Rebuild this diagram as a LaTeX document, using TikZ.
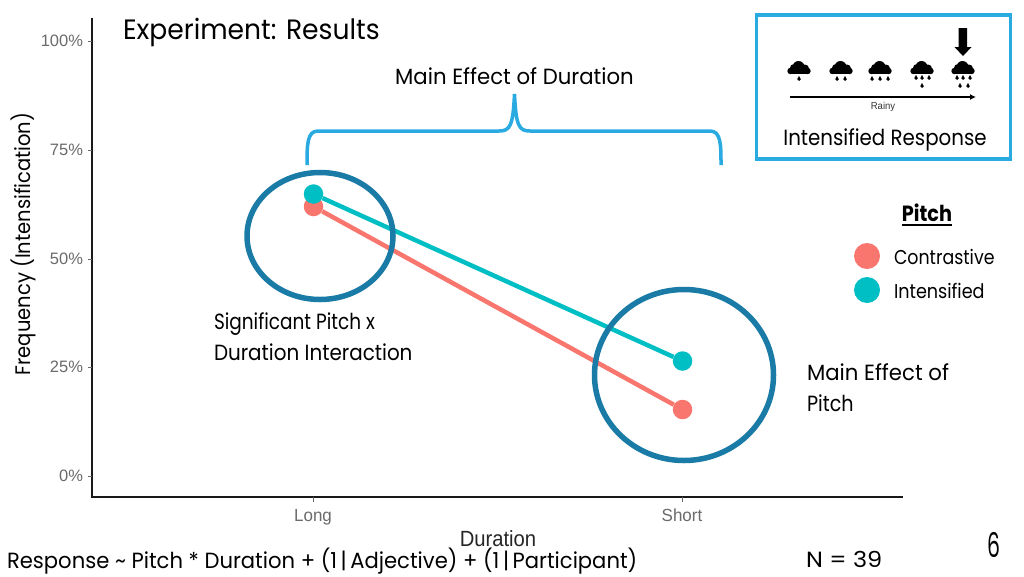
\documentclass[tikz,border=0pt]{standalone}
\usepackage{fontspec}
\usetikzlibrary{arrows.meta}
\setmainfont{Poppins}
\newfontfamily\axisfont{Liberation Sans}
\definecolor{ringblue}{HTML}{1A7BA6}
\definecolor{braceblue}{HTML}{29ABE2}
\definecolor{salmon}{HTML}{F8766D}
\definecolor{tealc}{HTML}{00BFC4}
\tikzset{
  slide/.style={inner sep=0pt,outer sep=0pt,text=black},
  big/.style={slide,font=\fontsize{28}{30}\selectfont,anchor=base west},
  ann/.style={slide,font=\fontsize{22}{24}\selectfont,anchor=base west},
  annc/.style={slide,font=\fontsize{22}{24}\selectfont,anchor=base},
  leg/.style={slide,font=\fontsize{20}{24}\selectfont,anchor=base west},
  tick/.style={slide,font=\axisfont\fontsize{16.5}{18}\selectfont,text=black!58},
  xtick/.style={slide,font=\axisfont\fontsize{17.5}{18}\selectfont,text=black!58,xscale=.97,anchor=base},
  axisline/.style={line width=2pt,draw=black!90},
  tickline/.style={line width=.8pt,draw=black!60},
  ringline/.style={line width=5.5pt,draw=ringblue},
  brace/.style={line width=3.5pt,draw=braceblue},
  redline/.style={line width=4.5pt,draw=salmon},
  tealline/.style={line width=4.5pt,draw=tealc},
  reddot/.style={circle,fill=salmon,minimum size=19.5pt,inner sep=0pt},
  tealdot/.style={circle,fill=tealc,minimum size=19.5pt,inner sep=0pt},
  reddotb/.style={circle,fill=salmon,minimum size=26pt,inner sep=0pt},
  tealdotb/.style={circle,fill=tealc,minimum size=26pt,inner sep=0pt},
  cloud/.pic={
    \fill (-8.5,0) circle[radius=3.2] (8.5,0) circle[radius=3.2];
    \fill (-8.5,-3.2) rectangle (8.5,3.2);
    \fill (-5,-3) circle[radius=4] (-0.5,-4) circle[radius=6] (6,-2.5) circle[radius=4];
  },
  rain/.pic={\fill (0,-3) -- (1.8,.2) arc[start angle=0,end angle=180,radius=1.8] -- cycle;}
}
\begin{document}
\begin{tikzpicture}[x=1pt,y=-1pt]
\useasboundingbox (0,0) rectangle (1024,576);
\fill[white] (0,0) rectangle (1024,576);
% axes
\coordinate (o) at (92,497);
\coordinate (ytop) at (92,18);
\coordinate (xend) at (903,497);
\draw[axisline] (ytop) -- (o) -- (xend);
\foreach \y/\t in {41/100\%,150/75\%,259/50\%,367/25\%,476/0\%}{
  \draw[tickline] (88,\y) -- (92,\y);
  \node[tick,anchor=east] at (83,\y) {\t};
}
\draw[tickline] (313,497) -- (313,502);
\draw[tickline] (682,497) -- (682,502);
\node[xtick] (long) at (313,521) {Long};
\node[xtick] (short) at (682,521) {Short};
\node[slide,font=\axisfont\fontsize{22}{24}\selectfont,text=black!85,xscale=.92] (durlab) at (498,538.5) {Duration};
\node[slide,rotate=90,xscale=.93,font=\fontsize{21}{24}\selectfont] (ylab) at (23,244) {Frequency (Intensification)};
% data
\node[reddot] (r1) at (313.5,206.5) {};
\node[reddot] (r2) at (682.5,409.5) {};
\node[tealdot] (t1) at (313.5,194) {};
\node[tealdot] (t2) at (682.5,361) {};
\draw[redline] (r1) -- (r2);
\draw[tealline] (t1) -- (t2);
% rings
\draw[ringline] (320,236) ellipse[x radius=73,y radius=63.5];
\draw[ringline] (684,375) ellipse[x radius=89.5,y radius=85.5];
% brace
\coordinate (bl) at (307,165);
\coordinate (br) at (721,165);
\coordinate (bt) at (514.5,94);
\draw[brace] (bl) .. controls (307,145) and (307,131) .. (318,131) -- (499,131)
  .. controls (510,131) and (513,126) .. (bt)
  .. controls (516,126) and (519,131) .. (530,131) -- (710,131)
  .. controls (721,131) and (721,145) .. (br);
% texts
\node[big,xscale=.95] (title) at (123,39) {Experiment: Results};
\node[annc,xscale=.965] (mdur) at (514.5,84) {Main Effect of Duration};
\node[ann,xscale=.84] (sig1) at (214,329) {Significant Pitch x};
\node[ann,xscale=.905] (sig2) at (214,360) {Duration Interaction};
\node[ann,xscale=.965] (mp1) at (807,380) {Main Effect of};
\node[ann,xscale=.87] (mp2) at (807,411) {Pitch};
\node[ann,xscale=.96] (formula) at (7,568) {Response \textasciitilde{} Pitch * Duration + (1\,|\,Adjective) + (1\,|\,Participant)};
\node[ann,xscale=1.09] (n) at (806,567) {N = 39};
\node[slide,font=\fontsize{34}{36}\selectfont,xscale=.6] (page) at (994,545) {6};
% legend
\node[slide,font=\fontsize{22}{24}\selectfont\bfseries,xscale=.875,anchor=base] (pitch) at (927,221) {Pitch};
\draw[line width=1.8pt] (902,225) -- (952,225);
\node[reddotb] (lr) at (867,256) {};
\node[tealdotb] (lt) at (867,290) {};
\node[leg,xscale=.87] (lc) at (894,264) {Contrastive};
\node[leg,xscale=.88] (li) at (894,298) {Intensified};
% inset
\node[draw=braceblue,line width=3.5pt,minimum width=254pt,minimum height=144pt,inner sep=0pt] (inset) at (883.5,87) {};
\foreach \x in {799,841,880,922,963}{ \pic at (\x,71) {cloud}; }
\foreach \x/\y in {799/79, 837/79,845/79, 872/79,880/79,888/79, 916/78,922/78,929/78,922/86, 957/78,963/78,970/78,960/86,968/86}{
  \pic at (\x,\y) {rain};
}
\coordinate (ra) at (790,97);
\coordinate (rb) at (976,97);
\draw[line width=1.5pt,-{Latex[length=6pt,width=6pt]}] (ra) -- (rb);
\node[slide,font=\axisfont\fontsize{10}{11}\selectfont,xscale=.95,text=black!80] (rainy) at (883,106.5) {Rainy};
\fill (958.5,28) -- (967,28) -- (967,47) -- (971.5,47) -- (963,56) -- (954.5,47) -- (958.5,47) -- cycle;
\node[annc,xscale=.90] (ir) at (885,145) {Intensified Response};
\end{tikzpicture}
\end{document}
